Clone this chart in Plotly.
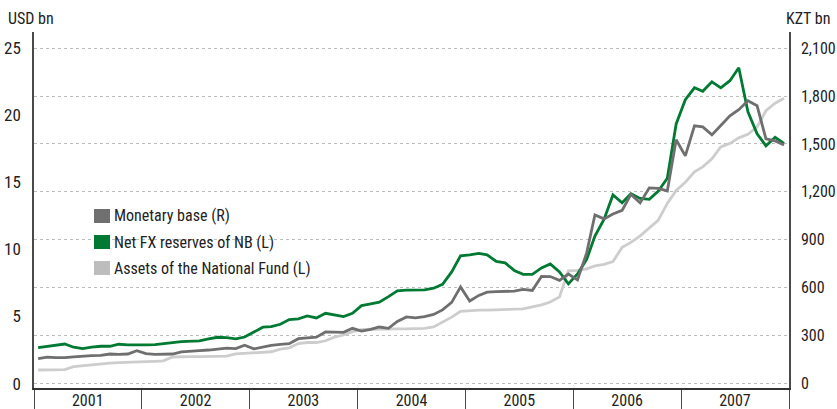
import pandas as pd
import plotly.graph_objects as go

# ---------------- data ----------------
years = ["2001", "2002", "2003", "2004", "2005", "2006", "2007"]
months = pd.date_range("2001-01-01", periods=84, freq="MS") + pd.Timedelta(days=14)

# Net FX reserves of NB, USD bn (left axis)
net_fx_reserves = [
    2.68, 2.78, 2.83, 2.95, 2.71, 2.60, 2.71, 2.78, 2.78, 2.93, 2.88, 2.86,
    2.88, 2.90, 2.95, 3.05, 3.12, 3.15, 3.18, 3.33, 3.45, 3.42, 3.33, 3.47,
    3.85, 4.20, 4.24, 4.42, 4.77, 4.82, 5.04, 4.89, 5.24, 5.12, 4.99, 5.24,
    5.81, 5.94, 6.06, 6.48, 6.91, 6.96, 6.98, 6.98, 7.11, 7.40, 8.32, 9.52,
    9.59, 9.70, 9.59, 9.10, 8.99, 8.43, 8.14, 8.14, 8.62, 8.92, 8.32, 7.43,
    8.17, 9.25, 11.00, 12.25, 14.06, 13.47, 14.14, 13.80, 13.73, 14.33, 15.30, 19.35,
    21.15, 22.04, 21.78, 22.49, 22.04, 22.57, 23.53, 20.25, 18.61, 17.72, 18.35, 17.90,
]

# Monetary base, KZT bn (right axis)
monetary_base = [
    156, 165, 162, 162, 167, 173, 175, 177, 185, 183, 185, 206,
    187, 183, 183, 185, 198, 204, 206, 210, 217, 222, 219, 240,
    217, 231, 239, 245, 250, 281, 287, 290, 323, 323, 321, 346,
    329, 340, 354, 346, 389, 417, 411, 419, 433, 461, 508, 605,
    517, 552, 572, 575, 576, 579, 589, 583, 671, 670, 646, 686,
    649, 818, 1056, 1031, 1062, 1084, 1184, 1131, 1225, 1222, 1206, 1526,
    1425, 1613, 1607, 1557, 1616, 1676, 1714, 1770, 1739, 1532, 1519, 1494,
]

# Assets of the National Fund, USD bn (left axis)
national_fund = [
    1.01, 1.01, 1.01, 1.04, 1.26, 1.33, 1.40, 1.48, 1.53, 1.56, 1.60, 1.61,
    1.63, 1.66, 1.69, 1.98, 2.01, 2.01, 2.01, 2.01, 2.01, 2.04, 2.21, 2.25,
    2.28, 2.33, 2.37, 2.57, 2.66, 2.98, 3.06, 3.06, 3.19, 3.46, 3.62, 3.87,
    4.01, 4.05, 4.07, 4.07, 4.07, 4.07, 4.09, 4.12, 4.22, 4.55, 4.95, 5.38,
    5.45, 5.47, 5.47, 5.49, 5.50, 5.54, 5.56, 5.71, 5.86, 6.08, 6.46, 8.40,
    8.43, 8.55, 8.77, 8.88, 9.10, 10.15, 10.52, 11.01, 11.57, 12.16, 13.43, 14.40,
    15.00, 15.78, 16.15, 16.75, 17.64, 17.90, 18.31, 18.58, 19.13, 20.33, 20.89, 21.26,
]

left_ticks = [0, 5, 10, 15, 20, 25]
right_ticks = [0, 300, 600, 900, 1200, 1500, 1800, 2100]

series_names = ["Monetary base (R)", "Net FX reserves of NB (L)", "Assets of the National Fund (L)"]

# ---------------- style ----------------
FONT = "Roboto Condensed, Liberation Sans Narrow, sans-serif"
GREEN = "#007A33"
DGRAY = "#6F6F6F"
LGRAY = "#CDCDCD"
AXIS = "#4a4a4a"
TXT = "#222222"

W, H = 837, 409
ML, MR, MT, MB = 34, 48, 32, 21
PW, PH = W - ML - MR, H - MT - MB

def px(x):
    return (x - ML) / PW

def py(y):
    return (H - MB - y) / PH

fig = go.Figure()
fig.add_trace(go.Scatter(x=months, y=national_fund, mode="lines", name=series_names[2],
                         line=dict(color=LGRAY, width=2.8), yaxis="y", showlegend=False))
fig.add_trace(go.Scatter(x=months, y=monetary_base, mode="lines", name=series_names[0],
                         line=dict(color=DGRAY, width=2.8), yaxis="y2", showlegend=False))
fig.add_trace(go.Scatter(x=months, y=net_fx_reserves, mode="lines", name=series_names[1],
                         line=dict(color=GREEN, width=2.8), yaxis="y", showlegend=False))

LEFT_MAX = 26.2
LEFT_MIN = -0.33
RATIO = 84.0

year_starts = [f"{y}-01-01" for y in range(2001, 2009)]
year_mids = [f"{y}-07-02" for y in years]

fig.update_layout(
    width=W, height=H,
    margin=dict(l=ML, r=MR, t=MT, b=MB, autoexpand=False),
    paper_bgcolor="white", plot_bgcolor="white",
    font=dict(family=FONT, size=16, color=TXT),
    showlegend=False,
    xaxis=dict(
        type="date", automargin=False,
        range=["2001-01-01", "2008-01-01"],
        tickmode="array", tickvals=year_mids, ticktext=years,
        ticks="", showgrid=False, zeroline=False, ticklabelstandoff=-3,
        showline=True, linecolor="#333333", linewidth=1.5,
        tickfont=dict(family=FONT, size=16, color=TXT),
        minor=dict(tickmode="array", tickvals=year_starts, ticks="outside",
                   ticklen=21, tickwidth=1.3, tickcolor=AXIS, showgrid=False),
    ),
    yaxis=dict(
        range=[LEFT_MIN, LEFT_MAX], automargin=False,
        tickmode="array", tickvals=left_ticks,
        showgrid=False, zeroline=False,
        showline=True, linecolor=AXIS, linewidth=1.5,
        ticks="", ticklabelstandoff=8,
        tickfont=dict(family=FONT, size=17, color=TXT),
    ),
    yaxis2=dict(
        range=[LEFT_MIN * RATIO, LEFT_MAX * RATIO], automargin=False,
        overlaying="y", side="right",
        tickmode="array", tickvals=right_ticks, tickformat=",",
        showgrid=True, gridcolor="#BDBDBD", griddash="dot", gridwidth=1,
        zeroline=False,
        showline=True, linecolor=AXIS, linewidth=1.5,
        ticks="", ticklabelstandoff=7,
        tickfont=dict(family=FONT, size=16, color=TXT),
    ),
)

# legend (white panel hiding grid, colour squares and labels)
shapes = [dict(type="rect", xref="paper", yref="paper", layer="below",
               x0=px(79), x1=px(391), y0=py(296), y1=py(182),
               fillcolor="white", line=dict(width=0))]
legend_colors = [DGRAY, GREEN, "#BDBDBD"]
legend_centers = [216, 242, 268]
annotations = []
for name, col, cy in zip(series_names, legend_colors, legend_centers):
    shapes.append(dict(type="rect", xref="paper", yref="paper",
                       x0=px(94), x1=px(110), y0=py(cy + 7), y1=py(cy - 7),
                       fillcolor=col, line=dict(width=0)))
    annotations.append(dict(xref="paper", yref="paper", x=px(112), y=py(cy),
                            xanchor="left", yanchor="middle", showarrow=False,
                            text=name, font=dict(family=FONT, size=16, color=TXT)))

annotations.append(dict(xref="paper", yref="paper", x=px(6), y=py(18),
                        xanchor="left", yanchor="middle", showarrow=False,
                        text="USD bn", font=dict(family=FONT, size=16, color=TXT)))
annotations.append(dict(xref="paper", yref="paper", x=px(784), y=py(18),
                        xanchor="left", yanchor="middle", showarrow=False,
                        text="KZT bn", font=dict(family=FONT, size=16, color=TXT)))

fig.update_layout(shapes=shapes, annotations=annotations)

fig.write_html("out.html", config={"displayModeBar": False},
               post_script="document.body.style.margin='0';document.body.style.overflow='hidden';")
